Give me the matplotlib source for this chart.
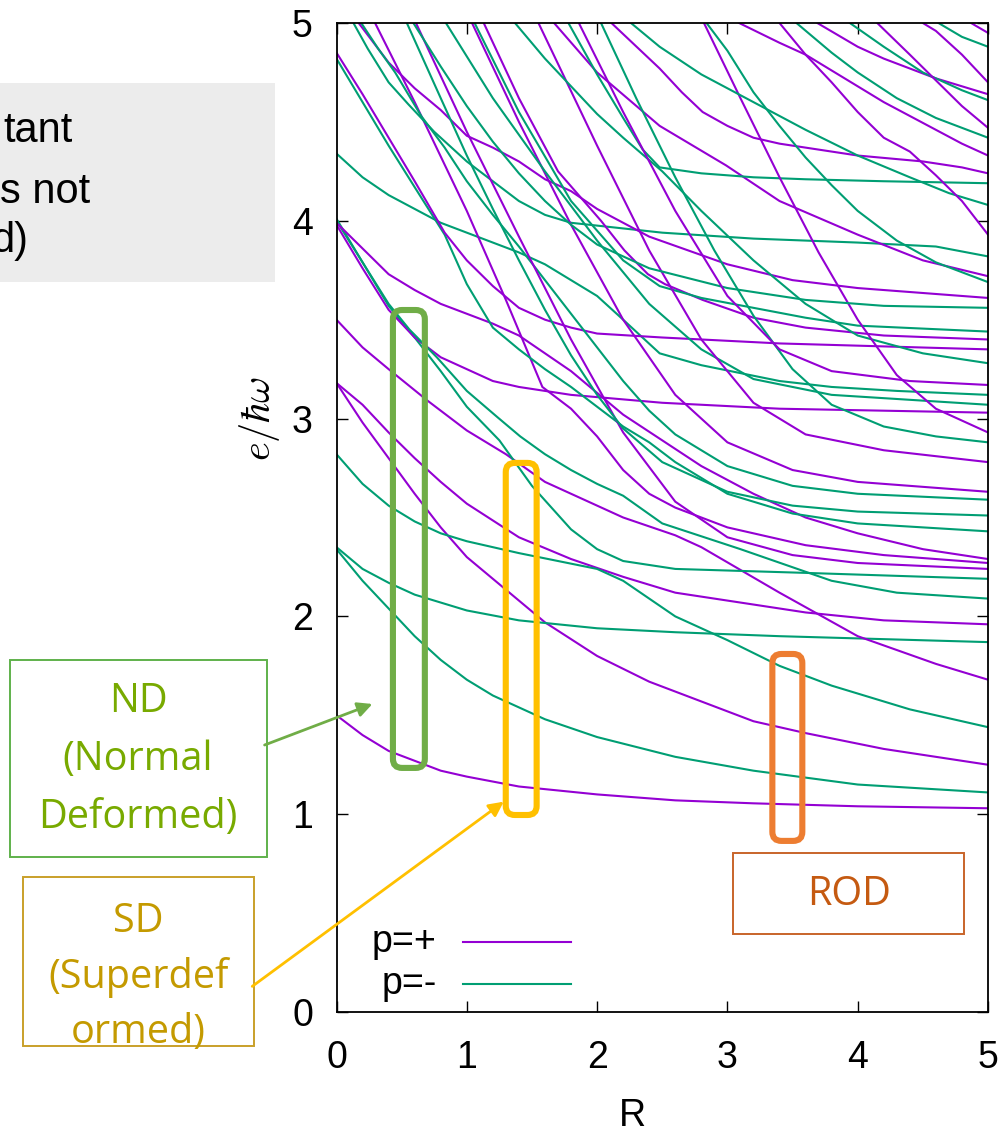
import matplotlib
matplotlib.use("Agg")
import matplotlib.pyplot as plt
import matplotlib.transforms as mtransforms
from matplotlib.patches import Rectangle, FancyBboxPatch, FancyArrowPatch

# ---------------------------------------------------------------
# Single-particle levels e/hbar*omega versus cluster distance R
# Each level: list of (R, e) points, positive parity (p=+) and negative parity (p=-)
# ---------------------------------------------------------------
p01 = [(0, 1.50), (0.2, 1.40), (0.4, 1.32), (0.6, 1.27), (0.8, 1.22), (1.0, 1.19), (1.4, 1.14), (2.0, 1.10), (2.6, 1.07), (3.2, 1.055), (4.0, 1.04), (5.0, 1.03)]
p02 = [(0, 3.18), (0.2, 2.98), (0.4, 2.80), (0.6, 2.62), (0.8, 2.45), (1.0, 2.30), (1.2, 2.19), (1.6, 1.97), (2.0, 1.80), (2.4, 1.67), (2.8, 1.57), (3.2, 1.47), (3.6, 1.41), (4.2, 1.33), (5.0, 1.25)]
p03 = [(0, 3.18), (0.2, 3.07), (0.4, 2.93), (0.6, 2.80), (0.8, 2.68), (1.0, 2.57), (1.4, 2.40), (1.8, 2.29), (2.2, 2.20), (2.6, 2.12), (3.0, 2.08), (3.6, 2.02), (4.2, 1.98), (5.0, 1.96)]
p04 = [(0, 3.50), (0.2, 3.36), (0.4, 3.25), (0.7, 3.09), (1.0, 2.94), (1.3, 2.82), (1.6, 2.68), (2.2, 2.50), (2.6, 2.41), (2.8, 2.35), (3.4, 2.12), (4.0, 1.90), (4.6, 1.76), (5.0, 1.68)]
p05 = [(0, 3.98), (0.2, 3.76), (0.4, 3.55), (0.6, 3.41), (0.8, 3.31), (1.0, 3.25), (1.2, 3.19), (1.4, 3.16), (1.8, 3.12), (2.5, 3.08), (3.4, 3.05), (5.0, 3.03)]
p06 = [(0, 3.99), (0.2, 3.86), (0.4, 3.73), (0.6, 3.65), (0.8, 3.58), (1.0, 3.53), (1.2, 3.48), (1.4, 3.42), (1.6, 3.33), (1.8, 3.24), (2.0, 3.13), (2.2, 3.02), (2.5, 2.89), (2.8, 2.76), (3.2, 2.62), (3.6, 2.50), (4.0, 2.42), (4.5, 2.34), (5.0, 2.29)]
p07 = [(0.22, 5.10), (0.6, 4.60), (1.0, 4.05), (1.3, 3.60), (1.58, 3.16), (1.8, 3.05), (2.0, 2.91), (2.2, 2.74), (2.4, 2.62), (2.6, 2.55), (3.0, 2.45), (3.6, 2.36), (4.2, 2.31), (5.0, 2.27)]
p08 = [(0, 4.85), (0.2, 4.64), (0.4, 4.42), (0.6, 4.20), (0.83, 3.94), (1.0, 3.80), (1.2, 3.67), (1.4, 3.56), (1.6, 3.50), (1.8, 3.46), (2.0, 3.43), (2.5, 3.41), (3.4, 3.38), (5.0, 3.35)]
p09 = [(0.10, 5.10), (0.17, 5.0), (0.4, 4.80), (0.6, 4.67), (0.8, 4.56), (1.0, 4.43), (1.2, 4.37), (1.4, 4.30), (1.6, 4.21), (1.8, 4.15), (2.0, 4.06), (2.4, 3.92), (3.0, 3.78), (3.5, 3.70), (4.0, 3.66), (5.0, 3.61)]
p10 = [(0.55, 5.08), (0.61, 5.0), (1.0, 4.45), (1.4, 3.92), (1.8, 3.40), (2.2, 2.93), (2.6, 2.58), (3.0, 2.40), (3.5, 2.31), (4.0, 2.27), (5.0, 2.24)]
p11 = [(1.0, 5.05), (1.04, 5.0), (1.4, 4.50), (1.8, 3.98), (2.2, 3.50), (2.6, 3.12), (3.0, 2.88), (3.5, 2.74), (4.0, 2.68), (5.0, 2.63)]
p12 = [(1.07, 5.08), (1.13, 5.0), (1.4, 4.62), (1.7, 4.25), (2.03, 4.0), (2.21, 3.85), (2.39, 3.73), (2.52, 3.68), (2.81, 3.60), (3.2, 3.51), (3.6, 3.46), (4.2, 3.42), (5.0, 3.40)]
p13 = [(1.5, 5.06), (1.55, 5.0), (2.0, 4.38), (2.4, 3.85), (2.8, 3.40), (3.2, 3.08), (3.6, 2.92), (4.2, 2.84), (5.0, 2.78)]
p14 = [(1.6, 5.05), (1.67, 5.0), (2.0, 4.75), (2.48, 4.48), (2.99, 4.28), (3.4, 4.10), (4.0, 3.93), (4.5, 3.80), (5.0, 3.72)]
p15 = [(2.0, 5.12), (2.11, 5.0), (2.48, 4.77), (2.65, 4.65), (2.81, 4.55), (3.0, 4.48), (3.2, 4.42), (3.4, 4.39), (3.6, 4.37), (4.0, 4.33), (4.5, 4.30), (4.8, 4.27), (5.0, 4.24)]
p16 = [(2.76, 5.08), (2.82, 5.0), (3.1, 4.62), (3.4, 4.22), (3.7, 3.84), (4.0, 3.50), (4.3, 3.22), (4.6, 3.05), (5.0, 2.93)]
p17 = [(3.0, 5.05), (3.09, 5.0), (3.4, 4.90), (3.6, 4.84), (3.8, 4.76), (4.0, 4.68), (4.2, 4.60), (4.4, 4.53), (4.6, 4.46), (4.8, 4.39), (5.0, 4.33)]
p18 = [(3.35, 5.05), (3.40, 5.0), (3.6, 4.84), (3.8, 4.70), (4.0, 4.55), (4.2, 4.42), (4.4, 4.35), (4.6, 4.23), (4.8, 4.10), (5.0, 3.93)]
p19 = [(3.6, 5.05), (3.69, 5.0), (4.0, 4.88), (4.2, 4.82), (4.4, 4.77), (4.6, 4.72), (4.8, 4.68), (5.0, 4.64)]
p20 = [(4.1, 5.04), (4.15, 5.0), (4.4, 4.84), (4.6, 4.71), (4.8, 4.58), (5.0, 4.47)]
p21 = [(4.45, 5.04), (4.50, 5.0), (4.6, 4.96), (4.8, 4.84), (5.0, 4.70)]
p22 = [(4.83, 5.03), (4.87, 5.0), (5.0, 4.95)]
p23 = [(1.8, 5.08), (1.86, 5.0), (2.2, 4.55), (2.6, 4.05), (3.0, 3.62), (3.4, 3.35), (3.8, 3.24), (4.4, 3.19), (5.0, 3.17)]

m01 = [(0, 2.34), (0.2, 2.18), (0.4, 2.04), (0.6, 1.90), (0.8, 1.78), (1.0, 1.68), (1.2, 1.60), (1.6, 1.48), (2.0, 1.39), (2.6, 1.29), (3.2, 1.22), (4.0, 1.15), (5.0, 1.11)]
m02 = [(0, 2.35), (0.2, 2.24), (0.4, 2.17), (0.6, 2.11), (0.8, 2.07), (1.0, 2.03), (1.4, 1.98), (2.0, 1.94), (2.6, 1.92), (3.4, 1.90), (5.0, 1.87)]
m03 = [(0, 2.82), (0.2, 2.67), (0.4, 2.56), (0.6, 2.48), (0.8, 2.42), (1.0, 2.38), (1.4, 2.32), (2.0, 2.24), (2.2, 2.18), (2.6, 2.00), (3.0, 1.88), (3.4, 1.75), (3.8, 1.65), (4.4, 1.53), (5.0, 1.44)]
m04 = [(0, 4.00), (0.2, 3.79), (0.4, 3.57), (0.6, 3.41), (0.8, 3.24), (1.0, 3.06), (1.25, 2.89), (1.5, 2.66), (1.8, 2.44), (2.0, 2.34), (2.2, 2.28), (2.6, 2.24), (3.6, 2.22), (5.0, 2.19)]
m05 = [(0, 4.01), (0.2, 3.79), (0.4, 3.58), (0.56, 3.45), (0.77, 3.31), (1.0, 3.14), (1.23, 3.01), (1.41, 2.91), (1.6, 2.82), (1.8, 2.74), (2.0, 2.67), (2.2, 2.61), (2.5, 2.47), (3.1, 2.34), (3.8, 2.18), (4.3, 2.12), (5.0, 2.09)]
m06 = [(0, 4.34), (0.2, 4.22), (0.4, 4.13), (0.6, 4.06), (0.8, 3.99), (1.0, 3.94), (1.2, 3.89), (1.4, 3.84), (1.6, 3.78), (1.8, 3.70), (2.0, 3.62), (2.2, 3.50), (2.48, 3.33), (2.8, 3.27), (3.4, 3.19), (3.8, 3.16), (4.3, 3.14), (5.0, 3.12)]
m07 = [(0, 4.82), (0.2, 4.60), (0.4, 4.38), (0.6, 4.17), (0.83, 3.93), (1.0, 3.68), (1.2, 3.46), (1.4, 3.35), (1.6, 3.25), (1.8, 3.16), (2.0, 3.06), (2.2, 2.96), (2.4, 2.88), (2.6, 2.78), (3.0, 2.62), (3.5, 2.52), (4.0, 2.47), (5.0, 2.43)]
m08 = [(0.08, 5.08), (0.13, 5.0), (0.24, 4.87), (0.4, 4.70), (0.55, 4.59), (0.75, 4.45), (1.0, 4.30), (1.2, 4.20), (1.4, 4.10), (1.6, 4.03), (1.8, 3.99), (2.5, 3.94), (3.2, 3.91), (4.0, 3.89), (4.6, 3.87), (5.0, 3.82)]
m09 = [(0.15, 5.06), (0.19, 5.0), (0.32, 4.87), (0.45, 4.75), (0.65, 4.53), (0.83, 4.37), (1.0, 4.20), (1.2, 4.03), (1.4, 3.87), (1.6, 3.70), (1.8, 3.53), (2.0, 3.36), (2.2, 3.19), (2.4, 3.04), (2.6, 2.92), (3.0, 2.76), (3.5, 2.66), (4.0, 2.62), (5.0, 2.59)]
m10 = [(0.5, 5.06), (0.54, 5.0), (0.8, 4.62), (1.0, 4.33), (1.2, 4.06), (1.4, 3.80), (1.6, 3.55), (1.8, 3.32), (2.0, 3.12), (2.2, 2.95), (2.5, 2.78), (3.0, 2.63), (3.5, 2.56), (4.0, 2.53), (5.0, 2.51)]
m11 = [(0.8, 5.04), (0.84, 5.0), (1.2, 4.62), (1.6, 4.25), (2.0, 3.90), (2.4, 3.58), (2.8, 3.35), (3.2, 3.20), (3.8, 3.12), (5.0, 3.07)]
m12 = [(1.0, 5.08), (1.06, 5.0), (1.4, 4.55), (1.8, 4.10), (2.2, 3.80), (2.48, 3.67), (2.8, 3.61), (3.2, 3.56), (3.6, 3.51), (4.0, 3.47), (5.0, 3.44)]
m13 = [(1.33, 5.03), (1.37, 5.0), (1.6, 4.82), (1.8, 4.68), (2.0, 4.54), (2.2, 4.42), (2.5, 4.25), (2.8, 4.05), (3.2, 3.80), (3.6, 3.58), (4.0, 3.42), (4.5, 3.33), (5.0, 3.28)]
m14 = [(1.72, 5.06), (1.78, 5.0), (2.0, 4.74), (2.2, 4.52), (2.35, 4.36), (2.48, 4.27), (2.8, 4.24), (3.2, 4.22), (3.6, 4.21), (4.2, 4.20), (5.0, 4.19)]
m15 = [(1.98, 5.06), (2.03, 5.0), (2.3, 4.62), (2.6, 4.22), (2.9, 3.85), (3.2, 3.52), (3.5, 3.25), (3.8, 3.07), (4.2, 2.96), (4.6, 2.91), (5.0, 2.88)]
m16 = [(2.2, 5.04), (2.26, 5.0), (2.48, 4.88), (2.8, 4.74), (3.2, 4.60), (3.6, 4.46), (4.0, 4.33), (4.4, 4.22), (4.7, 4.14), (5.0, 4.08)]
m17 = [(2.78, 5.07), (2.84, 5.0), (3.0, 4.86), (3.2, 4.65), (3.4, 4.48), (3.6, 4.32), (3.8, 4.18), (4.0, 4.05), (4.3, 3.90), (4.6, 3.79), (5.0, 3.69)]
m18 = [(3.48, 5.04), (3.53, 5.0), (3.8, 4.85), (4.0, 4.75), (4.3, 4.62), (4.6, 4.52), (5.0, 4.42)]
m19 = [(3.9, 5.02), (3.94, 5.0), (4.2, 4.88), (4.5, 4.75), (4.8, 4.66), (5.0, 4.61)]
m20 = [(4.58, 5.02), (4.62, 5.0), (4.8, 4.93), (5.0, 4.88)]
m21 = [(0.55, 5.06), (0.59, 5.0), (0.8, 4.78), (1.0, 4.58), (1.2, 4.40), (1.4, 4.24), (1.6, 4.10), (1.8, 3.98), (2.0, 3.88), (2.4, 3.76), (3.0, 3.66), (3.6, 3.60), (4.2, 3.57), (5.0, 3.56)]

plus_levels = [p01, p02, p03, p04, p05, p06, p07, p08, p09, p10, p11, p12,
               p13, p14, p15, p16, p17, p18, p19, p20, p21, p22, p23]
minus_levels = [m01, m02, m03, m04, m05, m06, m07, m08, m09, m10, m11,
                m12, m13, m14, m15, m16, m17, m18, m19, m20, m21]

legend_labels = ["p=+", "p=-"]

# highlighted deformation regions: (R_min, R_max, e_min, e_max)
nd_region = (0.433, 0.678, 1.234, 3.549)
sd_region = (1.299, 1.536, 0.996, 2.776)
rod_region = (3.345, 3.575, 0.865, 1.810)

PURPLE = "#9400d3"
GREEN = "#009e73"
LW = 1.5

W, H = 1007, 1134
plt.rcParams["font.family"] = ["Liberation Sans", "DejaVu Sans"]
plt.rcParams["mathtext.fontset"] = "cm"

fig = plt.figure(figsize=(W / 100, H / 100), dpi=100)
ax = fig.add_axes([336.5 / W, 1 - 1012 / H, (988 - 336.5) / W, (1012 - 23) / H])

# pixel coordinates (origin top-left) for the slide annotations
px = mtransforms.Affine2D().scale(1 / W, -1 / H).translate(0, 1) + fig.transFigure

for k in range(max(len(plus_levels), len(minus_levels))):
    if k < len(plus_levels):
        r, e = zip(*plus_levels[k])
        ax.plot(r, e, color=PURPLE, lw=LW, solid_joinstyle="miter")
    if k < len(minus_levels):
        r, e = zip(*minus_levels[k])
        ax.plot(r, e, color=GREEN, lw=LW, solid_joinstyle="miter")

ax.set_xlim(0, 5)
ax.set_ylim(0, 5)
ax.set_xticks(range(6))
ax.set_yticks(range(6))
ax.tick_params(direction="in", length=8, width=1.0, top=True, right=True,
               labelsize=27)
ax.tick_params(axis="y", pad=17)
ax.tick_params(axis="x", pad=20)
for s in ax.spines.values():
    s.set_linewidth(1.3)

ax.set_xlabel("R", fontsize=27)
ax.xaxis.set_label_coords(0.455, -0.087)
ax.set_ylabel(r"$e/\hbar\omega$", fontsize=29)
ax.yaxis.set_label_coords(-0.083, 0.60)

# key (text right-aligned, sample line to its right)
for lab, col, yk in [(legend_labels[0], PURPLE, 0.0708), (legend_labels[1], GREEN, 0.0283)]:
    ax.text(0.154, yk, lab, transform=ax.transAxes, ha="right", va="center", fontsize=27)
    ax.plot([0.194, 0.360], [yk, yk], transform=ax.transAxes, color=col, lw=LW)

# highlighted regions
aspect = 130.5 / 197.8
for (r0, r1, e0, e1), col in [(nd_region, "#70ad47"), (sd_region, "#ffc000"),
                               (rod_region, "#ed7d31")]:
    ax.add_patch(FancyBboxPatch((r0, e0), r1 - r0, e1 - e0,
                                boxstyle="round,pad=0,rounding_size=0.07",
                                mutation_aspect=aspect, fill=False,
                                edgecolor=col, lw=4.4, zorder=5, clip_on=False))

# gray note box (partly outside the slide)
fig.add_artist(Rectangle((0, 83), 275, 199, transform=px, facecolor="#ececec",
                         edgecolor="none", zorder=0))
for txt, x, y in [("tant", 3, 142), ("s not", 0, 203), ("d)", -9, 252)]:
    fig.text(x / W, 1 - y / H, txt, fontsize=30, ha="left", va="baseline",
             family=["Liberation Sans"])

# labelled boxes
box_font = ["Open Sans", "DejaVu Sans"]
BOX_FS = 28.5
fig.add_artist(Rectangle((9.5, 660), 257.5, 197, transform=px, fill=False,
                         edgecolor="#5fb14b", lw=1.4))
for txt, y in [("ND", 702), ("(Normal", 760), ("Deformed)", 818)]:
    fig.text(138 / W, 1 - y / H, txt, fontsize=BOX_FS, ha="center", va="center",
             color="#78aa00", family=box_font)

fig.add_artist(Rectangle((23, 877), 231, 169, transform=px, fill=False,
                         edgecolor="#c9a02a", lw=1.4))
for txt, y in [("SD", 922), ("(Superdef", 978), ("ormed)", 1033)]:
    fig.text(138.5 / W, 1 - y / H, txt, fontsize=BOX_FS, ha="center", va="center",
             color="#c49a00", family=box_font)

fig.add_artist(Rectangle((733, 853), 231, 81, transform=px, fill=False,
                         edgecolor="#c8642a", lw=1.4))
fig.text(849 / W, 1 - 895 / H, "ROD", fontsize=BOX_FS, ha="center", va="center",
         color="#c55a11", family=box_font)

# arrows from the boxes to the highlighted regions
fig.add_artist(FancyArrowPatch((262, 746), (375, 703), transform=px,
                               arrowstyle="-|>", mutation_scale=22,
                               color="#70ad47", lw=2))
fig.add_artist(FancyArrowPatch((250, 988), (506, 800), transform=px,
                               arrowstyle="-|>", mutation_scale=22,
                               color="#ffc000", lw=2))

fig.savefig("out.png", dpi=100)
